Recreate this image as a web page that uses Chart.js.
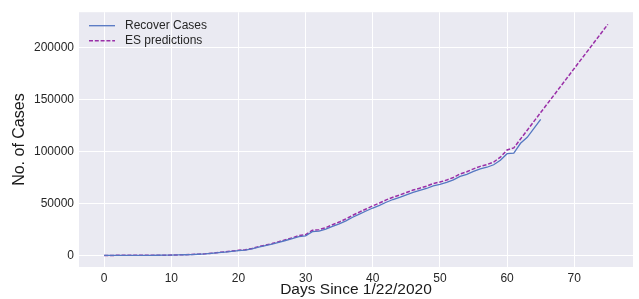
<!DOCTYPE html>
<html>
<head>
<meta charset="utf-8">
<script src="https://cdn.jsdelivr.net/npm/chart.js@4/dist/chart.umd.min.js"></script>
<style>
  html, body { margin: 0; padding: 0; background: #fff; }
  #wrap { width: 639px; height: 299px; }
</style>
</head>
<body>
<div id="wrap"><canvas id="chart" width="639" height="299"></canvas></div>
<script>
// Days since 1/22/2020
const days = [];
for (let d = 0; d <= 75; d++) days.push(d);

// Recovered cases, day 0..65
const recoverCases = [
  28, 30, 36, 39, 52, 61, 107, 126, 143, 222,
  284, 472, 623, 852, 1124, 1487, 2011, 2616, 3244, 3946,
  4683, 5150, 6295, 8058, 9395, 10865, 12583, 14352, 16121, 18177,
  18890, 22886, 23394, 25227, 27905, 30384, 33277, 36711, 39782, 42716,
  45602, 48228, 51170, 53796, 55865, 58358, 60694, 62494, 64404, 67003,
  68324, 70251, 72624, 76034, 78088, 80840, 83207, 84854, 87256, 91499,
  97899, 98351, 107890, 113604, 122150, 130915
];

// Exponential smoothing predictions, day 0..75
const esPredictions = [
  30, 33, 40, 45, 58, 70, 115, 140, 160, 240,
  310, 500, 660, 900, 1190, 1570, 2120, 2760, 3420, 4160,
  4930, 5450, 6600, 8450, 9860, 11400, 13200, 15050, 16900, 19050,
  19900, 24200, 24800, 26700, 29500, 32100, 35100, 38600, 41700, 44700,
  47700, 50400, 53400, 56000, 58100, 60600, 62900, 64700, 66600, 69200,
  70600, 72500, 75000, 78400, 80500, 83300, 85700, 87400, 89900, 94500,
  101500, 103500, 112000, 120500, 129000, 137500, 146000, 154400, 162900, 171400,
  179900, 188400, 196800, 205300, 213800, 222300
];

const xTicks = [0, 10, 20, 30, 40, 50, 60, 70];
const yTicks = [0, 50000, 100000, 150000, 200000];
const seriesNames = ['Recover Cases', 'ES predictions'];

const FONT = '"Liberation Sans", Arial, sans-serif';

// legend drawn inside the plot, top left, no frame
const innerLegend = {
  id: 'innerLegend',
  afterDraw(chart) {
    const ctx = chart.ctx;
    const a = chart.chartArea;
    ctx.save();
    ctx.font = '12px ' + FONT;
    ctx.textBaseline = 'middle';
    chart.data.datasets.forEach((ds, i) => {
      const y = a.top + 13.5 + i * 15;
      const x0 = a.left + 10;
      ctx.beginPath();
      ctx.strokeStyle = ds.borderColor;
      ctx.lineWidth = ds.borderWidth;
      ctx.setLineDash(ds.borderDash || []);
      ctx.moveTo(x0, y);
      ctx.lineTo(x0 + 26, y);
      ctx.stroke();
      ctx.setLineDash([]);
      ctx.fillStyle = '#262626';
      ctx.fillText(ds.label, x0 + 36, y);
    });
    ctx.restore();
  }
};

const ctx = document.getElementById('chart').getContext('2d');
const chart = new Chart(ctx, {
  type: 'line',
  data: {
    datasets: [{
      label: seriesNames[0],
      data: recoverCases.map((v, i) => ({ x: days[i], y: v })),
      borderColor: '#5577c2',
      borderWidth: 1.3,
      pointRadius: 0,
      tension: 0,
      fill: false
    }, {
      label: seriesNames[1],
      data: esPredictions.map((v, i) => ({ x: days[i], y: v })),
      borderColor: '#9a30a8',
      borderWidth: 1.5,
      borderDash: [4, 1.8],
      pointRadius: 0,
      tension: 0,
      fill: false
    }]
  },
  options: {
    responsive: false,
    animation: false,
    layout: { padding: { left: 10, right: 6, top: 9, bottom: 0 } },
    plugins: {
      legend: { display: false },
      tooltip: { enabled: false }
    },
    scales: {
      x: {
        type: 'linear',
        min: -3.75,
        max: 78.75,
        afterBuildTicks: s => { s.ticks = xTicks.map(v => ({ value: v })); },
        afterFit: s => { s.height = 32; },
        grid: { color: '#ffffff', lineWidth: 1, drawTicks: false },
        border: { display: false },
        ticks: { color: '#262626', font: { family: FONT, size: 12 }, padding: 4, maxRotation: 0,
                 callback: v => String(v) },
        title: {
          display: true,
          text: 'Days Since 1/22/2020',
          color: '#1a1a1a',
          font: { family: FONT, size: 15.5 },
          padding: { top: 0, bottom: 0 }
        }
      },
      y: {
        min: -11150,
        max: 234050,
        afterBuildTicks: s => { s.ticks = yTicks.map(v => ({ value: v })); },
        afterFit: s => { s.width = 69; },
        grid: { color: '#ffffff', lineWidth: 1, drawTicks: false },
        border: { display: false },
        ticks: { color: '#262626', font: { family: FONT, size: 12 }, padding: 5,
                 callback: v => String(v) },
        title: {
          display: true,
          text: 'No. of Cases',
          color: '#1a1a1a',
          font: { family: FONT, size: 16 },
          padding: { top: 0, bottom: 4 }
        }
      }
    }
  },
  plugins: [{
    id: 'plotBg',
    beforeDraw(chart) {
      const a = chart.chartArea;
      chart.ctx.save();
      chart.ctx.fillStyle = '#eaeaf2';
      chart.ctx.fillRect(a.left, a.top, a.right - a.left, a.bottom - a.top);
      chart.ctx.restore();
    }
  }, innerLegend]
});
</script>
</body>
</html>
